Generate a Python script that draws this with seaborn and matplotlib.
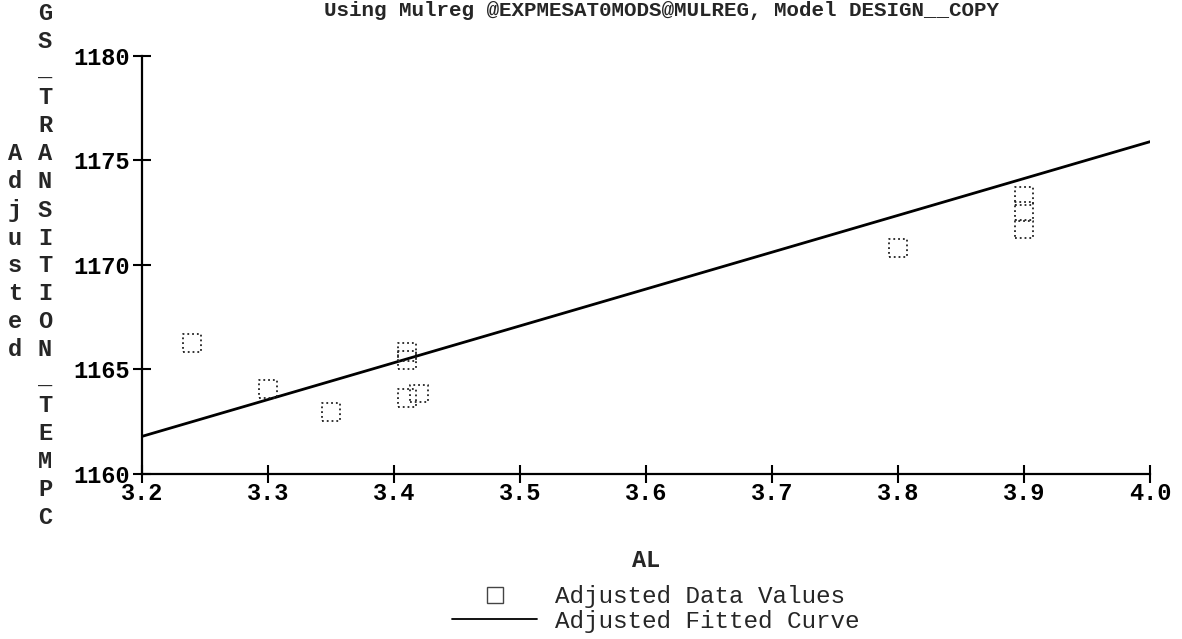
import numpy as np
import matplotlib
matplotlib.use("Agg")
import matplotlib.pyplot as plt
import pandas as pd
import seaborn as sns
from matplotlib.lines import Line2D

# data
al = [3.24, 3.30, 3.35, 3.41, 3.41, 3.41, 3.42, 3.80, 3.90, 3.90, 3.90]
temp = [1166.25, 1164.05, 1162.95, 1165.85, 1165.45, 1163.65, 1163.85, 1170.8, 1173.3, 1172.6, 1171.7]
fit_al = [3.2, 4.0]
fit_temp = [1161.8, 1175.9]
x_ticks = [3.2, 3.3, 3.4, 3.5, 3.6, 3.7, 3.8, 3.9, 4.0]
y_ticks = [1160, 1165, 1170, 1175, 1180]

title = "Using Mulreg @EXPMESAT0MODS@MULREG, Model DESIGN__COPY"
ylab_outer = "Adjusted"
ylab_inner = "GS_TRANSITION_TEMPC"

sns.set_style("ticks")
plt.rcParams['font.family'] = ['Liberation Mono', 'DejaVu Sans Mono']

pts = pd.DataFrame({'AL': al, 'TEMP': temp})
fit = pd.DataFrame({'AL': fit_al, 'TEMP': fit_temp})

W, H = 1182, 639
fig = plt.figure(figsize=(W / 100, H / 100), dpi=100)
ax = fig.add_axes([142 / W, 1 - 474 / H, (1150 - 142) / W, (474 - 56) / H])

sns.lineplot(data=fit, x='AL', y='TEMP', ax=ax, color='black', linewidth=2)
sns.scatterplot(data=pts, x='AL', y='TEMP', ax=ax, marker='s', s=165,
                facecolors='none', edgecolor='#222222', linewidth=1.3,
                linestyle=':', zorder=3)

ax.set_xlim(3.2, 4.0)
ax.set_ylim(1160, 1180)
ax.set_xticks(x_ticks)
ax.set_xticklabels([f"{v:.1f}" for v in x_ticks])
ax.set_yticks(y_ticks)
ax.set_yticklabels([str(v) for v in y_ticks])
ax.tick_params(direction='inout', length=13, width=1.5, labelsize=17, colors='black')
ax.tick_params(axis='x', pad=-1)
ax.tick_params(axis='y', pad=2)
for lab in ax.get_xticklabels() + ax.get_yticklabels():
    lab.set_fontweight('bold')
for side in ['top', 'right']:
    ax.spines[side].set_visible(False)
for side in ['left', 'bottom']:
    ax.spines[side].set_linewidth(1.6)
    ax.spines[side].set_color('black')

ax.set_xlabel('AL', fontsize=17, fontweight='bold', labelpad=32)
ax.set_ylabel('')

# title at the very top of the page
fig.text(0.56, 1 - 10 / H, title, ha='center', va='center', fontsize=15, fontweight='bold')

# vertical stacked y label
for i, ch in enumerate(ylab_inner):
    fig.text(45 / W, 1 - (14 + 28 * i) / H, ch, ha='center', va='center',
             fontsize=17, fontweight='bold')
for i, ch in enumerate(ylab_outer):
    fig.text(15 / W, 1 - (14 + 28 * (i + 5)) / H, ch, ha='center', va='center',
             fontsize=17, fontweight='bold')

handles = [Line2D([], [], marker='s', markersize=11, markerfacecolor='none',
                  markeredgecolor='#444444', linestyle='none', markeredgewidth=1),
           Line2D([], [], color='black', linewidth=1.3)]
fig.legend(handles, ['Adjusted Data Values', 'Adjusted Fitted Curve'],
           loc='center left', bbox_to_anchor=(440 / W, 1 - 609 / H), frameon=False,
           fontsize=17.5, handlelength=3.5, handletextpad=0.75, labelspacing=0.05,
           borderpad=0)

fig.savefig('out.png', dpi=100)
